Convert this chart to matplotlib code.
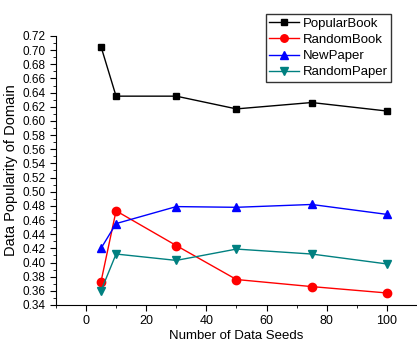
import matplotlib.pyplot as plt
from matplotlib.ticker import MultipleLocator

plt.rcParams['font.family'] = ['Liberation Sans', 'DejaVu Sans']

# data
seeds = [5, 10, 30, 50, 75, 100]
popular_book = [0.705, 0.635, 0.635, 0.617, 0.626, 0.614]
random_book = [0.373, 0.473, 0.424, 0.376, 0.366, 0.357]
new_paper = [0.420, 0.455, 0.479, 0.478, 0.482, 0.468]
random_paper = [0.360, 0.412, 0.403, 0.419, 0.412, 0.398]

fig = plt.figure(figsize=(4.17, 3.46), dpi=100)
ax = fig.add_axes([0.134, 0.1185, 0.866, 0.7775])

ax.plot(seeds, popular_book, color='black', marker='s', ms=5, lw=1, label='PopularBook')
ax.plot(seeds, random_book, color='red', marker='o', ms=6, lw=1, label='RandomBook')
ax.plot(seeds, new_paper, color='blue', marker='^', ms=6, lw=1, label='NewPaper')
ax.plot(seeds, random_paper, color='#008080', marker='v', ms=6, lw=1, label='RandomPaper')

ax.set_xlim(-10, 110)
ax.set_ylim(0.34, 0.72)
ax.xaxis.set_major_locator(MultipleLocator(20))
ax.xaxis.set_minor_locator(MultipleLocator(10))
ax.yaxis.set_major_locator(MultipleLocator(0.02))
ax.yaxis.set_minor_locator(MultipleLocator(0.01))
ax.yaxis.set_major_formatter(plt.FormatStrFormatter('%.2f'))

ax.spines['top'].set_visible(False)
ax.spines['right'].set_visible(False)
ax.tick_params(axis='both', which='major', direction='out', length=4, labelsize=8.5)
ax.tick_params(axis='x', which='major', labelsize=9)
ax.tick_params(axis='both', which='minor', direction='out', length=2)

ax.set_xlabel('Number of Data Seeds', fontsize=9.5, labelpad=2)
ax.set_ylabel('Data Popularity of Domain', fontsize=10.5, labelpad=3)

leg = fig.legend(loc='upper left', bbox_to_anchor=(0.621, 0.978), fontsize=9.5,
                 frameon=True, fancybox=False, edgecolor='black',
                 handlelength=2.3, borderpad=0.25, labelspacing=0.3, handletextpad=0.3,
                 markerscale=0.9)
leg.get_frame().set_linewidth(1)

fig.savefig('out.png', dpi=100)
